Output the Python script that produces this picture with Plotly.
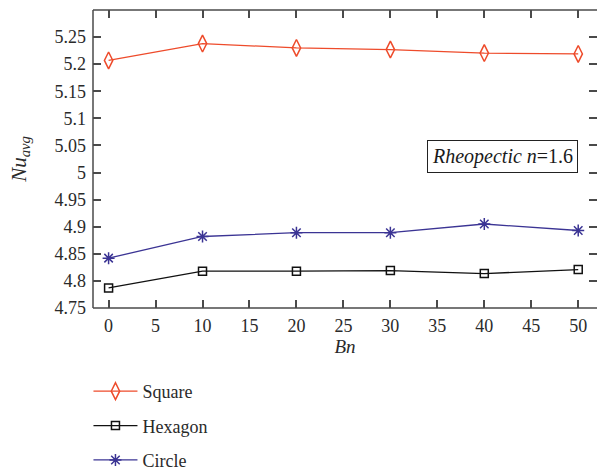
import plotly.graph_objects as go

bn = [0, 10, 20, 30, 40, 50]
square_nu = [5.207, 5.238, 5.230, 5.227, 5.2205, 5.219]
hexagon_nu = [4.787, 4.818, 4.818, 4.819, 4.8135, 4.821]
circle_nu = [4.842, 4.882, 4.889, 4.889, 4.905, 4.893]

x_ticks = [0, 5, 10, 15, 20, 25, 30, 35, 40, 45, 50]
y_ticks = [4.75, 4.8, 4.85, 4.9, 4.95, 5.0, 5.05, 5.1, 5.15, 5.2, 5.25]
y_tick_text = ["4.75", "4.8", "4.85", "4.9", "4.95", "5", "5.05", "5.1", "5.15", "5.2", "5.25"]

FONT = "Liberation Serif, Times New Roman, serif"
AXC = "#4a4a4a"

fig = go.Figure()
fig.add_trace(go.Scatter(x=bn, y=square_nu, name="Square", mode="lines+markers",
                         line=dict(color="#EE4B2B", width=1.3), legendgroup="a",
                         marker=dict(symbol="diamond-tall-open", size=12, color="#EE4B2B",
                                     line=dict(width=1.5, color="#EE4B2B"))))
fig.add_trace(go.Scatter(x=bn, y=hexagon_nu, name="Hexagon", mode="lines+markers",
                         line=dict(color="#111111", width=1.3), legendgroup="b",
                         marker=dict(symbol="square-open", size=8, color="#111111",
                                     line=dict(width=1.5, color="#111111"))))
fig.add_trace(go.Scatter(x=bn, y=circle_nu, name="Circle", mode="lines+markers",
                         line=dict(color="#3B3494", width=1.3), legendgroup="c",
                         marker=dict(symbol="asterisk-open", size=10, color="#3B3494",
                                     line=dict(width=1.5, color="#3B3494"))))

fig.update_layout(
    width=597, height=473, autosize=False,
    margin=dict(l=93, r=0, t=10, b=165, autoexpand=False),
    paper_bgcolor="white", plot_bgcolor="white",
    font=dict(family=FONT, size=18, color="#2a2a2a"),
    showlegend=True,
    legend=dict(x=-0.009, xanchor="left", y=-0.218, yanchor="top",
                itemwidth=44, tracegroupgap=8, font=dict(size=18),
                bgcolor="rgba(0,0,0,0)"),
    xaxis=dict(range=[-1.66, 52.0], tickvals=x_ticks, ticks="inside", ticklen=8,
               tickcolor=AXC, tickwidth=1.5, showline=False, mirror="ticks",
               showgrid=False, zeroline=False, ticklabelstandoff=5,
               tickfont=dict(size=18),
               title=dict(text="<i>Bn</i>", standoff=4, font=dict(size=19))),
    yaxis=dict(range=[4.75, 5.30], tickvals=y_ticks, ticktext=y_tick_text,
               ticks="inside", ticklen=8, tickcolor=AXC, tickwidth=1.5,
               showline=False, mirror="ticks", showgrid=False, zeroline=False,
               ticklabelstandoff=6, tickfont=dict(size=18),
               title=dict(text="<i>Nu</i><sub><i>avg</i></sub>", standoff=22,
                          font=dict(size=21))),
    shapes=[
        dict(type="line", xref="paper", yref="paper", x0=0, x1=0, y0=0, y1=1,
             line=dict(color=AXC, width=1.5)),
        dict(type="line", xref="paper", yref="paper", x0=0, x1=1, y0=0, y1=0,
             line=dict(color=AXC, width=1.5)),
        dict(type="line", xref="paper", yref="paper", x0=0, x1=1, y0=1, y1=1,
             line=dict(color=AXC, width=1.5)),
    ],
    annotations=[
        dict(x=41.9, y=5.030, xref="x", yref="y", showarrow=False,
             text="<i>Rheopectic n</i>=1.6", font=dict(size=20, color="#1a1a1a"),
             bordercolor="#222222", borderwidth=1, borderpad=4, bgcolor="white"),
    ],
)

fig.write_html("out.html")
